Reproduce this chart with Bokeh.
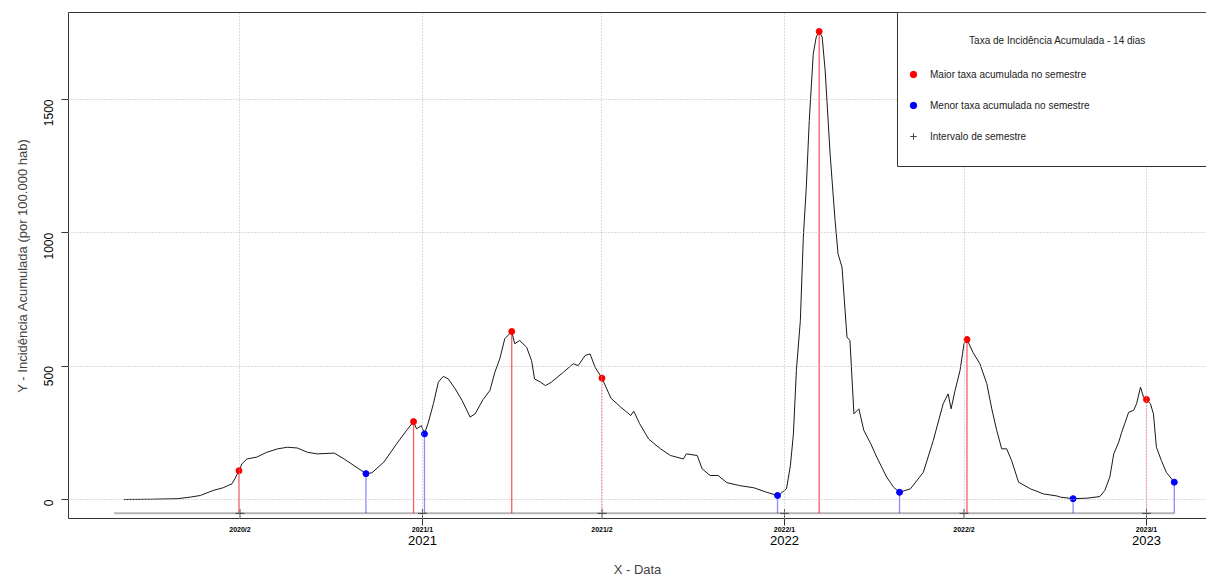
import math
import pandas as pd
from bokeh.plotting import figure
from bokeh.models import (Range1d, FixedTicker, DatetimeAxis, LinearAxis, Label,
                          BoxAnnotation, Legend, LegendItem, DatetimeTickFormatter)
from bokeh.embed import file_html
from bokeh.resources import INLINE

# ---------------- data ----------------
dates = [
    "2020-03-06", "2020-04-02", "2020-04-29", "2020-05-12", "2020-05-22", "2020-06-04",
    "2020-06-14", "2020-06-23", "2020-06-26", "2020-06-30", "2020-07-03", "2020-07-08",
    "2020-07-18", "2020-07-28", "2020-08-08", "2020-08-18", "2020-08-28", "2020-09-07",
    "2020-09-17", "2020-10-04", "2020-10-14", "2020-10-24", "2020-11-05", "2020-11-11",
    "2020-11-23", "2020-12-06", "2020-12-16", "2020-12-23", "2020-12-26", "2020-12-31",
    "2021-01-03", "2021-01-07", "2021-01-12", "2021-01-17", "2021-01-22", "2021-01-27",
    "2021-02-03", "2021-02-10", "2021-02-18", "2021-02-23", "2021-03-03", "2021-03-10",
    "2021-03-15", "2021-03-20", "2021-03-25", "2021-04-01", "2021-04-04", "2021-04-09",
    "2021-04-16", "2021-04-21", "2021-04-24", "2021-04-30", "2021-05-05", "2021-05-11",
    "2021-05-23", "2021-06-02", "2021-06-07", "2021-06-14", "2021-06-19", "2021-06-24",
    "2021-07-01", "2021-07-10", "2021-07-20", "2021-07-30", "2021-08-02", "2021-08-08",
    "2021-08-17", "2021-08-29", "2021-09-08", "2021-09-21", "2021-09-24", "2021-10-05",
    "2021-10-10", "2021-10-18", "2021-10-26", "2021-11-04", "2021-11-17", "2021-12-01",
    "2021-12-14", "2021-12-25", "2021-12-28", "2022-01-03", "2022-01-07", "2022-01-10",
    "2022-01-13", "2022-01-17", "2022-01-20", "2022-01-23", "2022-01-26", "2022-01-30",
    "2022-02-02", "2022-02-05", "2022-02-08", "2022-02-11", "2022-02-16", "2022-02-21",
    "2022-02-24", "2022-02-28", "2022-03-05", "2022-03-08", "2022-03-12", "2022-03-17",
    "2022-03-22", "2022-03-29", "2022-04-04", "2022-04-14", "2022-04-21", "2022-04-27",
    "2022-05-08", "2022-05-21", "2022-05-31", "2022-06-10", "2022-06-15", "2022-06-18",
    "2022-06-22", "2022-06-27", "2022-07-01", "2022-07-04", "2022-07-10", "2022-07-17",
    "2022-07-24", "2022-07-29", "2022-08-03", "2022-08-08", "2022-08-13", "2022-08-18",
    "2022-08-25", "2022-09-06", "2022-09-19", "2022-10-03", "2022-10-06", "2022-10-19",
    "2022-11-02", "2022-11-15", "2022-11-20", "2022-11-25", "2022-11-29", "2022-12-04",
    "2022-12-07", "2022-12-10", "2022-12-14", "2022-12-19", "2022-12-22", "2022-12-26",
    "2022-12-29", "2023-01-01", "2023-01-05", "2023-01-08", "2023-01-11", "2023-01-16",
    "2023-01-21", "2023-01-29",
]
values = [
    0, 1, 3, 9, 15, 34,
    44, 59, 79, 108, 134, 152,
    159, 177, 190, 196, 193, 177,
    171, 174, 152, 127, 97, 100,
    140, 209, 259, 292, 265, 277,
    246, 290, 359, 440, 462, 452,
    415, 371, 309, 321, 374, 409,
    477, 528, 603, 630, 584, 596,
    571, 521, 452, 440, 427, 440,
    477, 509, 502, 540, 546, 496,
    455, 380, 346, 315, 331, 284,
    227, 190, 165, 152, 171, 165,
    115, 90, 90, 63, 52, 44,
    27, 15, 22, 40, 128, 246,
    484, 671, 984, 1171, 1421, 1671,
    1734, 1755, 1734, 1609, 1296, 1046,
    921, 871, 609, 596, 321, 340,
    259, 209, 159, 84, 46, 27,
    40, 102, 221, 359, 396, 340,
    409, 484, 584, 600, 552, 509,
    434, 340, 259, 190, 190, 146,
    65, 40, 21, 13, 9, 3,
    5, 11, 34, 84, 171, 215,
    252, 284, 327, 334, 359, 421,
    384, 375, 359, 321, 196, 146,
    102, 65,
]

max_dates = ["2020-06-30", "2020-12-23", "2021-04-01", "2021-07-01",
             "2022-02-05", "2022-07-04", "2023-01-01"]
max_values = [108, 292, 630, 455, 1755, 600, 375]
min_dates = ["2020-11-05", "2021-01-03", "2021-12-25", "2022-04-27",
             "2022-10-19", "2023-01-29"]
min_values = [97, 246, 15, 27, 3, 65]

semester_dates = ["2020-07-01", "2021-01-01", "2021-07-01",
                  "2022-01-01", "2022-07-01", "2023-01-01"]
semester_labels = ["2020/2", "2021/1", "2021/2", "2022/1", "2022/2", "2023/1"]
year_ticks = ["2021-01-01", "2022-01-01", "2023-01-01"]
y_ticks = [0, 500, 1000, 1500]

interval_start = "2020-02-25"
interval_end = "2023-01-29"
interval_level = -52

legend_title = "Taxa de Incidência Acumulada - 14 dias"
legend_labels = ["Maior taxa acumulada no semestre",
                 "Menor taxa acumulada no semestre",
                 "Intervalo de semestre"]

FONT = "Liberation Sans"


def ms(s):
    return int(pd.Timestamp(s).value // 1_000_000)


x0 = pd.Timestamp("2021-01-01") - pd.Timedelta(days=356.9)
x1 = x0 + pd.Timedelta(days=1147.4)

p = figure(width=1206, height=579, x_axis_type="datetime",
           x_range=Range1d(x0.value / 1e6, x1.value / 1e6),
           y_range=Range1d(-71.25, 1826),
           output_backend="svg", toolbar_location=None,
           min_border_left=68, min_border_right=0, min_border_top=12,
           min_border_bottom=61)
p.outline_line_color = None
p.background_fill_color = "white"

# grid
p.xgrid.ticker = FixedTicker(ticks=[ms(d) for d in semester_dates])
p.ygrid.ticker = FixedTicker(ticks=y_ticks)
for g in (p.xgrid[0], p.ygrid[0]):
    g.grid_line_color = "#b8b8b8"
    g.grid_line_dash = "1 2"
    g.grid_line_width = 1
    g.level = "guide"

dt = pd.to_datetime(dates)
sem_dt = pd.to_datetime(semester_dates)

# semester interval line
p.line(x=pd.to_datetime([interval_start, interval_end]),
       y=[interval_level, interval_level], line_color="#b5b5b5", line_width=2)


# stems (those that fall on a semester boundary look dotted in the reference)
def stems(ds, vs, color, alpha):
    for on_grid in (False, True):
        sel = [(d, v) for d, v in zip(ds, vs) if (d in semester_dates) == on_grid]
        if not sel:
            continue
        sx = pd.to_datetime([d for d, _ in sel])
        sy = [v for _, v in sel]
        p.segment(x0=sx, y0=sy, x1=sx, y1=[interval_level] * len(sy),
                  line_color=color, line_alpha=alpha, line_width=1.3,
                  line_dash="1 2" if on_grid else "solid")


stems(max_dates, max_values, "red", 0.65)
stems(min_dates, min_values, "blue", 0.45)

# main series
p.line(x=dt, y=values, line_color="#1a1a1a", line_width=1)

r_max = p.scatter(x=pd.to_datetime(max_dates), y=max_values, marker="circle", size=6,
                  fill_color="red", line_color="red")
r_min = p.scatter(x=pd.to_datetime(min_dates), y=min_values, marker="circle", size=6,
                  fill_color="blue", line_color="blue")
r_sem = p.scatter(x=sem_dt, y=[interval_level] * len(semester_dates), marker="cross",
                  size=9, line_color="#444444", line_width=1)

# x axis 1: semester labels + year tick marks (as minor ticks)
xa = p.xaxis[0]
xa.ticker = FixedTicker(ticks=[ms(d) for d in semester_dates],
                        minor_ticks=[ms(d) for d in year_ticks])
xa.major_label_overrides = {ms(d): lab for d, lab in zip(semester_dates, semester_labels)}
xa.major_tick_out = 0
xa.major_tick_in = 0
xa.minor_tick_out = 7
xa.minor_tick_in = 0
xa.minor_tick_line_color = "#333333"
xa.major_label_standoff = 0
xa.major_label_text_font = FONT
xa.major_label_text_font_size = "7px"
xa.major_label_text_font_style = "bold"
xa.major_label_text_color = "black"
xa.axis_line_color = "#333333"

# x axis 2: year labels + axis title
xa2 = DatetimeAxis(ticker=FixedTicker(ticks=[ms(d) for d in year_ticks]),
                   formatter=DatetimeTickFormatter(
                       years="%Y", months="%Y", days="%Y", hours="%Y", minutes="%Y",
                       seconds="%Y", milliseconds="%Y", minsec="%Y", hourmin="%Y"))
xa2.axis_line_color = None
xa2.major_tick_line_color = None
xa2.minor_tick_line_color = None
xa2.major_tick_out = 0
xa2.major_tick_in = 0
xa2.minor_tick_out = 0
xa2.minor_tick_in = 0
xa2.major_label_standoff = 0
xa2.major_label_text_font = FONT
xa2.major_label_text_font_size = "13px"
xa2.major_label_text_color = "black"
xa2.axis_label = "X - Data"
xa2.axis_label_text_font = FONT
xa2.axis_label_text_font_style = "normal"
xa2.axis_label_text_font_size = "13px"
xa2.axis_label_standoff = 14
p.add_layout(xa2, "below")

# y axis
ya = p.yaxis[0]
ya.ticker = FixedTicker(ticks=y_ticks)
ya.major_label_orientation = math.pi / 2
ya.minor_tick_line_color = None
ya.major_tick_out = 7
ya.major_tick_in = 0
ya.major_label_standoff = 13
ya.major_label_text_font = FONT
ya.major_label_text_font_size = "12px"
ya.major_label_text_color = "black"
ya.axis_label = "Y - Incidência Acumulada (por 100.000 hab)"
ya.axis_label_text_font = FONT
ya.axis_label_text_font_style = "normal"
ya.axis_label_text_font_size = "13px"
ya.axis_label_standoff = 7
ya.axis_line_color = "#333333"
ya.major_tick_line_color = "#333333"

# top frame line
top = LinearAxis(ticker=FixedTicker(ticks=[]), major_tick_out=0, major_tick_in=0,
                 minor_tick_out=0, minor_tick_in=0, major_label_standoff=0,
                 major_label_text_font_size="0px", axis_line_color="#333333")
p.add_layout(top, "above")

# legend box
box = BoxAnnotation(left=829, right=1400, top=506, bottom=352,
                    left_units="screen", right_units="screen",
                    top_units="screen", bottom_units="screen",
                    fill_color="white", fill_alpha=1.0,
                    line_color="#333333", line_width=1, line_alpha=1.0)
p.add_layout(box)

p.add_layout(Label(x=989, y=478, x_units="screen", y_units="screen", text=legend_title,
                   text_font=FONT, text_font_size="10px", text_align="center",
                   text_baseline="middle", text_color="#222222"))

legend = Legend(items=[LegendItem(label=legend_labels[0], renderers=[r_max]),
                       LegendItem(label=legend_labels[1], renderers=[r_min]),
                       LegendItem(label=legend_labels[2], renderers=[r_sem])],
                location=(827, 362), orientation="vertical",
                glyph_width=16, glyph_height=16, label_height=20, spacing=11,
                padding=10, margin=0, label_standoff=9,
                label_text_font=FONT, label_text_font_size="10px",
                label_text_color="#222222",
                border_line_alpha=0, background_fill_alpha=0)
p.add_layout(legend)

open("out.html", "w").write(file_html(p, INLINE))
